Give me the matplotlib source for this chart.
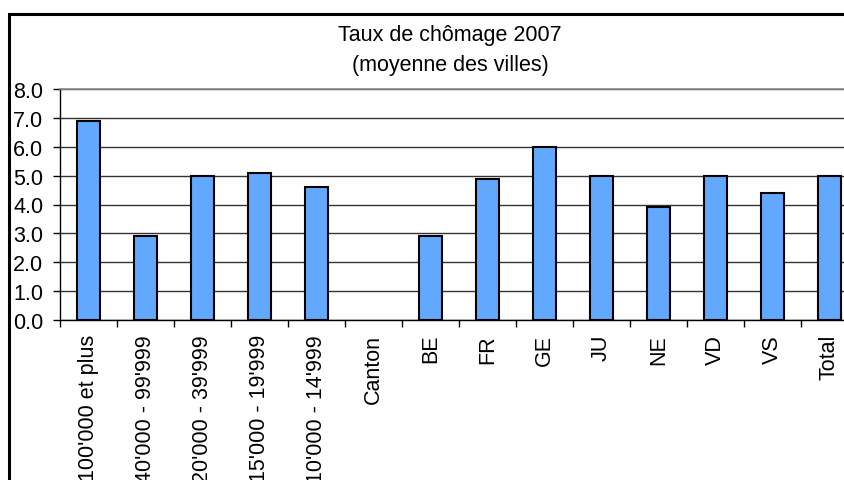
import matplotlib
matplotlib.use("Agg")
import matplotlib.pyplot as plt
import numpy as np
from matplotlib.patches import Rectangle

categories = ["100'000 et plus", "40'000 - 99'999", "20'000 - 39'999", "15'000 - 19'999",
              "10'000 - 14'999", "Canton", "BE", "FR", "GE", "JU", "NE", "VD", "VS", "Total"]
values = [6.9, 2.9, 5.0, 5.1, 4.6, 0.0, 2.9, 4.9, 6.0, 5.0, 3.9, 5.0, 4.4, 5.0]
yticks = [0.0, 1.0, 2.0, 3.0, 4.0, 5.0, 6.0, 7.0, 8.0]
title_lines = ["Taux de chômage 2007", "(moyenne des villes)"]

plt.rcParams['font.family'] = ['Liberation Sans', 'DejaVu Sans']
FS = 15.5

W, H = 845, 481
fig = plt.figure(figsize=(W / 100, H / 100), dpi=100)
fig.patch.set_facecolor('white')

# outer chart border (right/bottom fall outside the image)
fig.patches.append(Rectangle((9 / W, -0.2), 1.2, (H - 15) / H + 0.2, transform=fig.transFigure,
                             fill=False, edgecolor='black', linewidth=2.2, zorder=0))

left, right, top, bottom = 60, 858, 90, 321
ax = fig.add_axes([left / W, 1 - bottom / H, (right - left) / W, (bottom - top) / H])
ax.set_facecolor('white')

x = np.arange(len(categories))
vals = [v if v > 0 else np.nan for v in values]
ax.bar(x, vals, width=0.42, color='#63A8FF', edgecolor='black', linewidth=1.5, zorder=3)

ax.set_xlim(-0.5, len(categories) - 0.5)
ax.set_ylim(0, 8)
ax.set_yticks(yticks)
ax.set_yticklabels([f"{v:.1f}" for v in yticks], fontsize=FS)
ax.yaxis.grid(True, color='#333333', linewidth=1.0, zorder=1)
ax.set_axisbelow(True)

ax.set_xticks(x)
ax.set_xticklabels(categories, rotation=90, fontsize=FS, va='top', ha='center')
ax.set_xticks(np.arange(len(categories) + 1) - 0.5, minor=True)
ax.tick_params(axis='x', which='major', length=0, pad=10)
ax.tick_params(axis='x', which='minor', length=5, width=1.0, direction='out')
ax.tick_params(axis='y', length=5, width=1.0, direction='out', pad=7)

for s in ['left', 'bottom']:
    ax.spines[s].set_color('black')
    ax.spines[s].set_linewidth(1.0)
ax.spines['right'].set_visible(False)
ax.spines['top'].set_color('#888888')
ax.spines['top'].set_linewidth(1.2)

fig.text(450 / W, 1 - 36 / H, title_lines[0], ha='center', va='center', fontsize=FS)
fig.text(450 / W, 1 - 66 / H, title_lines[1], ha='center', va='center', fontsize=FS)

fig.savefig("out.png", dpi=100, facecolor='white')
